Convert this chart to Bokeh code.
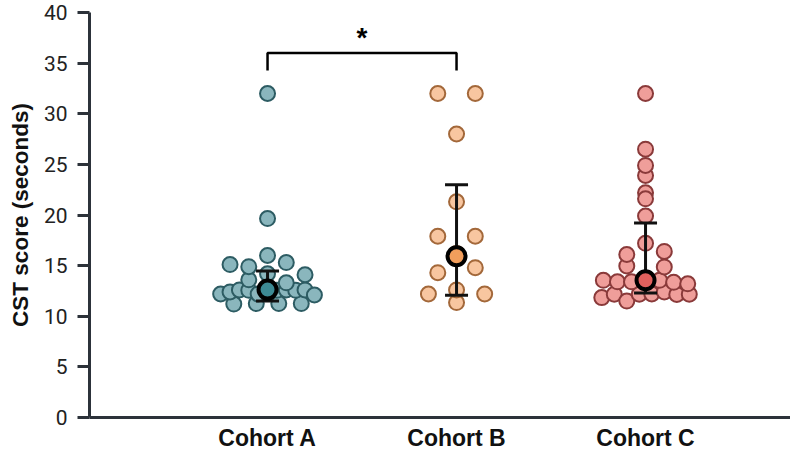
import numpy as np
from bokeh.plotting import figure
from bokeh.models import FixedTicker, Range1d
from bokeh.embed import file_html
from bokeh.resources import INLINE
from bokeh.core.properties import value

# ---------------- data ----------------
categories = ["Cohort A", "Cohort B", "Cohort C"]
cohort_a = [11.2, 11.25, 11.25, 11.25,
            12.2, 12.4, 12.6, 12.56, 12.2, 12.6, 12.56, 12.6, 12.56, 12.6, 12.1,
            13.6, 13.3,
            15.1, 14.9, 14.2, 15.3, 14.1,
            16.0, 19.65, 32.0]
cohort_b = [11.35, 12.2, 12.6, 12.2, 14.3, 14.8, 16.2, 17.9, 17.9, 21.3,
            28.0, 32.0, 32.0]
cohort_c = [11.84, 12.17, 11.5, 12.17, 12.2, 12.4, 12.15, 12.17,
            13.55, 13.4, 13.4, 13.55, 13.55, 13.35, 13.2,
            14.97, 14.87, 16.1, 16.4, 17.2, 19.9, 22.2, 21.6,
            23.9, 24.9, 26.5, 32.0]
centre = [12.63, 15.92, 13.55]
bar_low = [11.5, 12.07, 12.3]
bar_high = [14.47, 23.0, 19.2]
y_ticks = [0, 5, 10, 15, 20, 25, 30, 35, 40]
sig_groups = [0, 1]
sig_text = "*"
sig_level = 36.0

# ---------------- styles ----------------
fills = ["#8ab6bd", "#f8c6a0", "#ef9e9a"]
edges = ["#2d5c63", "#a3683a", "#8a3a3a"]
centre_fills = ["#3d8a94", "#f29e5c", "#e0605d"]
axis_col = "#2c323a"

W, H = 790, 454
B_LEFT, B_RIGHT, B_TOP, B_BOTTOM = 89, 0, 12, 37
X0, X1 = 0.058, 3.767
Y0, Y1 = 0, 40
px_x = (W - B_LEFT - B_RIGHT) / (X1 - X0)
px_y = (H - B_TOP - B_BOTTOM) / (Y1 - Y0)
DIAM = 15
ROW_H = 1.32      # row height of the dot-plot layout (value units)
ROW_BASE = 11.40  # a row boundary
COL_W = 112.5     # px width shared by the dots of one row


def dot_rows(vals):
    """Prism-like column scatter: bin into rows, spread each row evenly."""
    vals = np.asarray(vals, dtype=float)
    rows = np.floor((vals - ROW_BASE) / ROW_H).astype(int)
    offs = np.zeros(len(vals))
    for r in np.unique(rows):
        idx = np.where(rows == r)[0]
        n = len(idx)
        sp = COL_W / (n + 1)
        for k, i in enumerate(idx):
            offs[i] = (k - (n - 1) / 2) * sp / px_x
    return offs


p = figure(width=W, height=H, output_backend="svg", toolbar_location=None,
           x_range=Range1d(X0, X1), y_range=Range1d(Y0, Y1),
           min_border_left=B_LEFT, min_border_right=B_RIGHT,
           min_border_top=B_TOP, min_border_bottom=B_BOTTOM)
p.outline_line_color = None
p.grid.visible = False
p.background_fill_color = "white"
p.border_fill_color = "white"

groups = [cohort_a, cohort_b, cohort_c]
for gi, vals in enumerate(groups):
    xc = gi + 1
    offs = dot_rows(vals)
    p.scatter(xc + offs, vals, size=DIAM, fill_color=fills[gi],
              line_color=edges[gi], line_width=2)

xs = [1, 2, 3]
p.segment(x0=xs, y0=bar_low, x1=xs, y1=bar_high, line_color="#111111",
          line_width=3)
cap = 11.5 / px_x
p.segment(x0=[x - cap for x in xs], y0=bar_high, x1=[x + cap for x in xs],
          y1=bar_high, line_color="#111111", line_width=3)
p.segment(x0=[x - cap for x in xs], y0=bar_low, x1=[x + cap for x in xs],
          y1=bar_low, line_color="#111111", line_width=3)
p.scatter(xs, centre, size=18, fill_color=centre_fills, line_color="black",
          line_width=4)

# significance bracket
ga, gb = sig_groups[0] + 1, sig_groups[1] + 1
leg = 17.5 / px_y
p.line([ga, ga, gb, gb], [sig_level - leg, sig_level, sig_level, sig_level - leg],
       line_color="black", line_width=2.5)
p.text(x=[(ga + gb) / 2], y=[sig_level + 16 / px_y], text=[sig_text],
       text_font=value("Liberation Sans"), text_font_style="bold",
       text_font_size="28px", text_align="center", text_baseline="alphabetic",
       text_color="black")

# axes
p.yaxis.ticker = FixedTicker(ticks=y_ticks)
p.yaxis.axis_label = "CST score (seconds)"
p.yaxis.axis_label_text_font = "Liberation Sans"
p.yaxis.axis_label_text_font_style = "bold"
p.yaxis.axis_label_text_font_size = "22.5px"
p.yaxis.axis_label_text_color = "#111111"
p.yaxis.axis_label_standoff = 8
p.yaxis.major_label_text_font = "Roboto"
p.yaxis.major_label_text_font_size = "21px"
p.yaxis.major_label_text_color = "#222222"
p.yaxis.major_label_standoff = 10
p.yaxis.major_tick_out = 12
p.yaxis.major_tick_in = 0
p.yaxis.minor_tick_line_color = None

p.xaxis.ticker = FixedTicker(ticks=xs)
p.xaxis.major_label_overrides = {x: c for x, c in zip(xs, categories)}
p.xaxis.major_label_text_font = "Liberation Sans"
p.xaxis.major_label_text_font_style = "bold"
p.xaxis.major_label_text_font_size = "23px"
p.xaxis.major_label_text_color = "#111111"
p.xaxis.major_label_standoff = 7
p.xaxis.major_tick_out = 0
p.xaxis.major_tick_in = 0
p.xaxis.minor_tick_line_color = None

for ax in (p.xaxis, p.yaxis):
    ax.axis_line_width = 3
    ax.axis_line_color = axis_col
    ax.major_tick_line_width = 3
p.yaxis.major_tick_line_color = axis_col
p.xaxis.major_tick_line_color = None

open("out.html", "w").write(file_html(p, INLINE))
